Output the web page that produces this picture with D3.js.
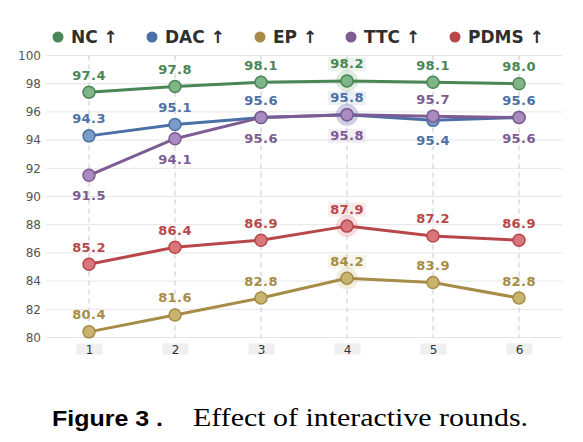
<!DOCTYPE html>
<html>
<head>
<meta charset="utf-8">
<script src="https://cdn.jsdelivr.net/npm/d3@7/dist/d3.min.js"></script>
<style>
  body { margin: 0; background: #fff; }
</style>
</head>
<body>
<div id="chart"></div>
<script>
// rounds on the x axis
const rounds = [1, 2, 3, 4, 5, 6];
const yTicks = [80, 82, 84, 86, 88, 90, 92, 94, 96, 98, 100];

// metric values per round
const ncValues   = [97.4, 97.8, 98.1, 98.2, 98.1, 98.0];
const dacValues  = [94.3, 95.1, 95.6, 95.8, 95.4, 95.6];
const epValues   = [80.4, 81.6, 82.8, 84.2, 83.9, 82.8];
const ttcValues  = [91.5, 94.1, 95.6, 95.8, 95.7, 95.6];
const pdmsValues = [85.2, 86.4, 86.9, 87.9, 87.2, 86.9];

// label side for each point (1 = above, -1 = below)
const dacSide = [1, 1, 1, 1, -1, 1];
const ttcSide = [-1, -1, -1, -1, 1, -1];
const allAbove = [1, 1, 1, 1, 1, 1];

const bestRound = 4;

const series = [
    { name: 'NC ↑',   values: ncValues,   side: allAbove, line: '#4b8656', fill: '#7fb587' },
    { name: 'DAC ↑',  values: dacValues,  side: dacSide,  line: '#4a70a5', fill: '#7b9bc8' },
    { name: 'EP ↑',   values: epValues,   side: allAbove, line: '#a68c46', fill: '#c8b46f' },
    { name: 'TTC ↑',  values: ttcValues,  side: ttcSide,  line: '#7c5c92', fill: '#a98bbf' },
    { name: 'PDMS ↑', values: pdmsValues, side: allAbove, line: '#b8474a', fill: '#d9767c' }
];

const width = 583, height = 442;
const margin = { top: 55.5, right: 21, bottom: 104.5, left: 46 };

const svg = d3.select('#chart').append('svg')
    .attr('width', width)
    .attr('height', height)
    .style('font-family', '"DejaVu Sans", sans-serif');

const x = d3.scaleLinear()
    .domain([0.5, 6.5])
    .range([margin.left, width - margin.right]);
const y = d3.scaleLinear()
    .domain([80, 100])
    .range([height - margin.bottom, margin.top]);

// horizontal grid
svg.append('g')
    .selectAll('line')
    .data(yTicks)
    .join('line')
    .attr('x1', x.range()[0])
    .attr('x2', x.range()[1])
    .attr('y1', d => y(d))
    .attr('y2', d => y(d))
    .attr('stroke', '#e6e6e6')
    .attr('stroke-width', 1);

// vertical dashed grid
svg.append('g')
    .selectAll('line')
    .data(rounds)
    .join('line')
    .attr('x1', d => x(d))
    .attr('x2', d => x(d))
    .attr('y1', y(100))
    .attr('y2', y(80))
    .attr('stroke', '#c8c8c8')
    .attr('stroke-width', 1)
    .attr('stroke-dasharray', '5,4');

// y axis labels
const yAxis = svg.append('g')
    .attr('transform', 'translate(' + (margin.left - 5) + ',0)')
    .call(d3.axisLeft(y).tickValues(yTicks).tickSize(0).tickPadding(0));
yAxis.select('.domain').remove();
yAxis.selectAll('text')
    .attr('font-size', '12px')
    .attr('fill', '#555')
    .style('font-family', '"DejaVu Sans", sans-serif');

// x axis labels with grey boxes
const xAxis = svg.append('g')
    .attr('transform', 'translate(0,' + (y(80) + 12) + ')')
    .call(d3.axisBottom(x).tickValues(rounds).tickFormat(d3.format('d')).tickSize(0).tickPadding(0));
xAxis.select('.domain').remove();
xAxis.selectAll('.tick').insert('rect', 'text')
    .attr('x', -13)
    .attr('y', -6)
    .attr('width', 26)
    .attr('height', 11)
    .attr('fill', '#efefef');
xAxis.selectAll('text')
    .attr('y', 0)
    .attr('dy', '0.35em')
    .attr('font-size', '12px')
    .attr('fill', '#333')
    .style('font-family', '"DejaVu Sans", sans-serif');

const line = d3.line()
    .x((d, i) => x(rounds[i]))
    .y(d => y(d));

// halos behind best round
series.forEach(s => {
    const i = rounds.indexOf(bestRound);
    svg.append('circle')
        .attr('cx', x(bestRound))
        .attr('cy', y(s.values[i]))
        .attr('r', 11)
        .attr('fill', s.fill)
        .attr('opacity', 0.25);
});

// lines
series.forEach(s => {
    svg.append('path')
        .datum(s.values)
        .attr('d', line)
        .attr('fill', 'none')
        .attr('stroke', s.line)
        .attr('stroke-width', 3)
        .attr('stroke-linejoin', 'round');
});

// markers
series.forEach(s => {
    svg.append('g')
        .selectAll('circle')
        .data(s.values)
        .join('circle')
        .attr('cx', (d, i) => x(rounds[i]))
        .attr('cy', d => y(d))
        .attr('r', 6)
        .attr('fill', s.fill)
        .attr('stroke', s.line)
        .attr('stroke-width', 1.5);
});

// value labels
series.forEach(s => {
    const g = svg.append('g');
    s.values.forEach((v, i) => {
        const ty = s.side[i] > 0 ? y(v) - 12.5 : y(v) + 25;
        const t = g.append('text')
            .attr('x', x(rounds[i]))
            .attr('y', ty)
            .attr('text-anchor', 'middle')
            .attr('font-size', '13px')
            .attr('font-weight', 'bold')
            .attr('letter-spacing', '0.4px')
            .attr('fill', s.line)
            .text(v.toFixed(1));
        if (rounds[i] === bestRound) {
            const bb = t.node().getBBox();
            g.insert('rect', 'text')
                .attr('x', bb.x - 2)
                .attr('y', bb.y + 1)
                .attr('width', bb.width + 4)
                .attr('height', bb.height - 1)
                .attr('fill', s.fill)
                .attr('opacity', 0.15);
        }
    });
});

// legend
const legendX = [58, 152, 260, 351, 455];
const legend = svg.append('g')
    .selectAll('g')
    .data(series)
    .join('g')
    .attr('transform', (d, i) => 'translate(' + legendX[i] + ',37)');
legend.append('circle')
    .attr('r', 5.5)
    .attr('fill', d => d.line);
legend.append('text')
    .attr('x', 13)
    .attr('dy', '0.36em')
    .attr('font-size', '17px')
    .attr('font-weight', 'bold')
    .attr('fill', '#2f2f2f')
    .text(d => d.name);

// caption
svg.append('text')
    .attr('x', 52)
    .attr('y', 426)
    .attr('font-family', '"Liberation Sans", sans-serif')
    .attr('font-weight', 'bold')
    .attr('font-size', '22px')
    .attr('textLength', 111)
    .attr('lengthAdjust', 'spacingAndGlyphs')
    .text('Figure 3 .');
svg.append('text')
    .attr('x', 193)
    .attr('y', 426)
    .attr('font-family', '"Liberation Serif", serif')
    .attr('font-size', '25px')
    .attr('textLength', 335)
    .attr('lengthAdjust', 'spacingAndGlyphs')
    .text('Effect of interactive rounds.');
</script>
</body>
</html>
